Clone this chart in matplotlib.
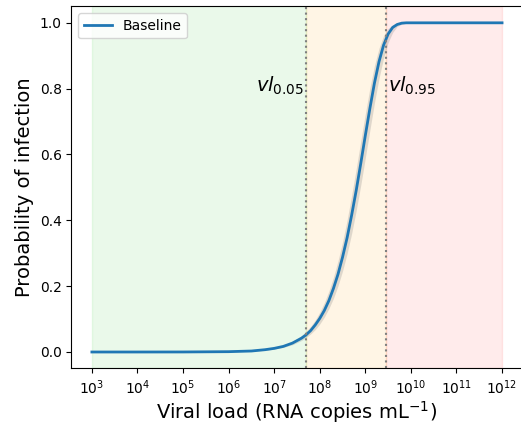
import numpy as np
import matplotlib
matplotlib.use('Agg')
import matplotlib.pyplot as plt

# log10 viral load and probability of infection
log_vl = [3.0, 4.0, 5.0, 6.0, 6.5, 6.8, 7.0, 7.2, 7.4, 7.6, 7.7, 7.8, 7.9,
          8.0, 8.1, 8.2, 8.3, 8.4, 8.5, 8.6, 8.7, 8.8, 8.9, 9.0, 9.1, 9.2,
          9.3, 9.4, 9.5, 9.6, 9.7, 9.8, 9.9, 10.0, 11.0, 12.0]
p_mid = [0.0, 0.0, 0.0001, 0.001, 0.003, 0.007, 0.011, 0.017, 0.027, 0.042,
         0.052, 0.065, 0.082, 0.102, 0.126, 0.156, 0.193, 0.236, 0.288, 0.347,
         0.416, 0.491, 0.573, 0.658, 0.740, 0.817, 0.882, 0.932, 0.966, 0.986,
         0.995, 0.999, 1.0, 1.0, 1.0, 1.0]
p_low = [0.0, 0.0, 0.0001, 0.001, 0.003, 0.005, 0.009, 0.014, 0.022, 0.035,
         0.044, 0.055, 0.068, 0.085, 0.106, 0.132, 0.163, 0.201, 0.246, 0.299,
         0.360, 0.430, 0.507, 0.590, 0.674, 0.757, 0.831, 0.893, 0.940, 0.971,
         0.989, 0.996, 0.999, 1.0, 1.0, 1.0]
p_high = [0.0, 0.0, 0.0001, 0.001, 0.004, 0.008, 0.013, 0.020, 0.032, 0.050,
          0.063, 0.078, 0.097, 0.121, 0.150, 0.185, 0.227, 0.277, 0.334, 0.401,
          0.476, 0.557, 0.641, 0.724, 0.802, 0.870, 0.923, 0.961, 0.983, 0.994,
          0.998, 1.0, 1.0, 1.0, 1.0, 1.0]

vl_05 = 4.9e7
vl_95 = 2.8e9
vl_min = 1e3
vl_max = 1e12

vl = 10 ** np.array(log_vl)

fig = plt.figure(figsize=(5.21, 4.24), dpi=100)
ax = fig.add_axes([0.137, 0.131, 0.866, 0.854])

# risk zones
ax.axvspan(vl_min, vl_05, color='limegreen', alpha=0.1)
ax.axvspan(vl_05, vl_95, color='orange', alpha=0.1)
ax.axvspan(vl_95, vl_max, color='red', alpha=0.08)

ax.fill_between(vl, p_low, p_high, color='gray', alpha=0.25, linewidth=0)
ax.plot(vl, p_mid, color='tab:blue', linewidth=2, label='Baseline')

ax.axvline(vl_05, color='gray', linestyle=':', linewidth=1.5)
ax.axvline(vl_95, color='gray', linestyle=':', linewidth=1.5)
ax.text(vl_05 / 1.08, 0.81, r'$vl_{0.05}$', fontsize=14, ha='right', va='center')
ax.text(vl_95 * 1.1, 0.81, r'$vl_{0.95}$', fontsize=14, ha='left', va='center')

ax.set_xscale('log')
ax.set_xticks([10.0 ** k for k in range(3, 13)])
ax.minorticks_off()
ax.set_ylim(-0.05, 1.05)
ax.set_xlabel('Viral load (RNA copies mL$^{-1}$)', fontsize=14, labelpad=2)
ax.set_ylabel('Probability of infection', fontsize=14)
ax.legend(loc='upper left')

plt.savefig('out.png', dpi=100)
